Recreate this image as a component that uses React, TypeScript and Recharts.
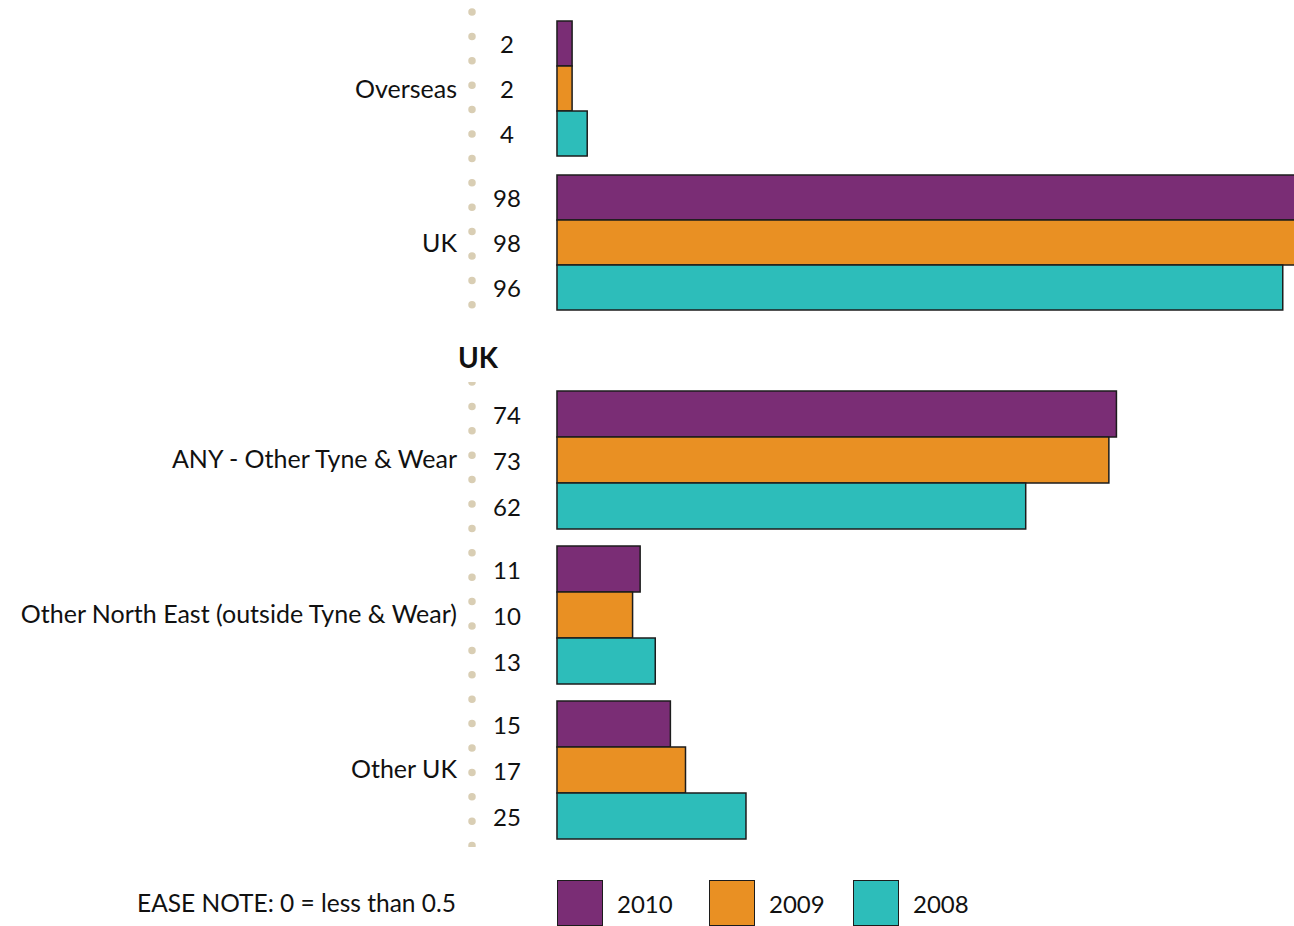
import React from "react"
import { BarChart, Bar, XAxis, YAxis, LabelList } from "recharts"

const categories = [
  "Overseas",
  "UK",
  "ANY - Other Tyne & Wear",
  "Other North East (outside Tyne & Wear)",
  "Other UK",
]
const values2010 = [2, 98, 74, 11, 15]
const values2009 = [2, 98, 73, 10, 17]
const values2008 = [4, 96, 62, 13, 25]

const series = [
  { key: "y2010", name: "2010", color: "#7a2d75" },
  { key: "y2009", name: "2009", color: "#e99023" },
  { key: "y2008", name: "2008", color: "#2dbdba" },
]

const rows = categories.map((name, i) => ({
  name,
  y2010: values2010[i],
  y2009: values2009[i],
  y2008: values2008[i],
}))

const topRows = rows.slice(0, 2)
const ukRows = rows.slice(2)

const FONT = "Lato, 'Noto Sans', sans-serif"
const TEXT = "#111"

function ValueLabel(props: any) {
  const { x, y, height, value } = props
  return (
    <text
      x={x - 50}
      y={y + height / 2}
      textAnchor="middle"
      dominantBaseline="central"
      fill={TEXT}
      fontSize={24}
      fontFamily={FONT}
    >
      {value}
    </text>
  )
}

function GroupChart({ data, height, top }: { data: typeof rows; height: number; top: number }) {
  return (
    <BarChart
      width={1320}
      height={height}
      data={data}
      layout="vertical"
      margin={{ top, right: 7, bottom: 0, left: 0 }}
      barCategoryGap={9}
      barGap={0}
    >
      <XAxis type="number" domain={[-11.24, 100]} allowDataOverflow hide />
      <YAxis
        type="category"
        dataKey="name"
        width={472}
        tickLine={false}
        tickSize={0}
        tickMargin={15}
        axisLine={{ stroke: "#d9ceb4", strokeWidth: 7.5, strokeDasharray: "0 24.4", strokeLinecap: "round" }}
        tick={{ fill: TEXT, fontSize: 25, fontFamily: FONT }}
      />
      {series.map((s) => (
        <Bar key={s.key} dataKey={s.key} fill={s.color} stroke="#1c1c1c" strokeWidth={1.5} isAnimationActive={false}>
          <LabelList dataKey={s.key} content={<ValueLabel />} />
        </Bar>
      ))}
    </BarChart>
  )
}

export default function App() {
  return (
    <div
      style={{
        position: "absolute",
        left: 0,
        top: 0,
        width: 1294,
        height: 926,
        overflow: "hidden",
        background: "#fff",
        fontFamily: FONT,
        color: TEXT,
      }}
    >
      <div style={{ position: "absolute", left: 0, top: 4 }}>
        <GroupChart data={topRows} height={316} top={8} />
      </div>
      <div
        style={{
          position: "absolute",
          left: 458,
          top: 340,
          fontSize: 28,
          fontWeight: 700,
          lineHeight: "34px",
        }}
      >
        UK
      </div>
      <div style={{ position: "absolute", left: 0, top: 382 }}>
        <GroupChart data={ukRows} height={465} top={0} />
      </div>
      <div
        style={{
          position: "absolute",
          right: 1294 - 456,
          top: 880,
          height: 45,
          display: "flex",
          alignItems: "center",
          fontSize: 24.5,
          whiteSpace: "nowrap",
        }}
      >
        EASE NOTE: 0 = less than 0.5
      </div>
      <div style={{ position: "absolute", left: 557, top: 880, display: "flex" }}>
        {series.map((s, i) => (
          <div key={s.key} style={{ display: "flex", alignItems: "center", width: i === 0 ? 152 : 144 }}>
            <div
              style={{
                width: 44,
                height: 44,
                background: s.color,
                border: "1px solid #1c1c1c",
              }}
            />
            <span style={{ marginLeft: 14, fontSize: 24 }}>{s.name}</span>
          </div>
        ))}
      </div>
    </div>
  )
}
